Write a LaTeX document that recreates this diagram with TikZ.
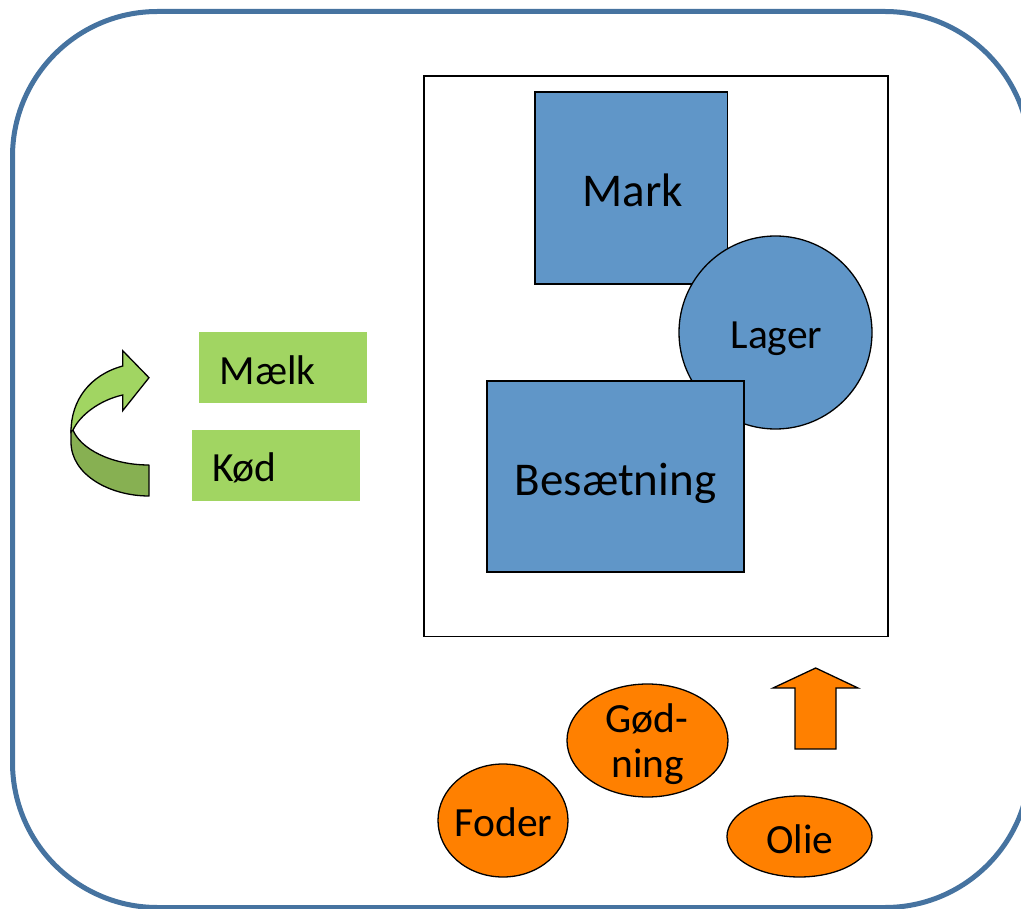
\documentclass[tikz,border=0pt]{standalone}
\usepackage{fontspec}
\setmainfont{Carlito}
\usetikzlibrary{shapes.geometric}
\definecolor{frameblue}{RGB}{70,115,160}
\definecolor{boxblue}{RGB}{96,150,200}
\definecolor{leafgreen}{RGB}{161,213,98}
\definecolor{darkgreen}{RGB}{135,176,82}
\definecolor{flame}{RGB}{255,128,0}

\begin{document}
\begin{tikzpicture}[x=1pt,y=-1pt,
  outline/.style={draw=black, line width=1.3pt},
  bluebox/.style={outline, fill=boxblue, rectangle, inner sep=0pt},
  greenbox/.style={fill=leafgreen, rectangle, inner sep=0pt},
  inflow/.style={outline, fill=flame, ellipse, inner sep=0pt},
  bigtxt/.style={font=\fontsize{47}{56}\selectfont, anchor=base},
  txt/.style={font=\fontsize{41.5}{50}\selectfont, anchor=base}]
\useasboundingbox (0,0) rectangle (1021,909);

% outer frame
\draw[frameblue, line width=5pt, rounded corners=145pt] (12.5,11.5) rectangle (1030,907.5);

% the farm
\node[outline, rectangle, inner sep=0pt, minimum width=464pt, minimum height=560.5pt] (farm) at (656,356.3) {};
\node[bluebox, minimum width=192.5pt, minimum height=192pt] (mark) at (631.3,188) {};
\node[outline, fill=boxblue, circle, inner sep=0pt, minimum size=193pt] (lager) at (775.5,332.5) {};
\node[bluebox, minimum width=257pt, minimum height=191pt] (besaetning) at (615.5,476.5) {};
\node[bigtxt] (marktxt) at (633,207) {Mark};
\node[txt] (lagertxt) at (776.5,349) {Lager};
\node[bigtxt] (besaetningtxt) at (615.5,496) {Besætning};

% products
\node[greenbox, minimum width=167.7pt, minimum height=71pt] (maelk) at (283,367.2) {};
\node[greenbox, minimum width=167.7pt, minimum height=70.4pt] (koed) at (276.2,465.5) {};
\node[txt, anchor=base west] (maelktxt) at (216,385) {Mælk};
\node[txt, anchor=base west] (koedtxt) at (208.5,482) {Kød};

% curved arrow (lower band first, upper band on top)
\draw[line width=1.3pt, line join=round, fill=darkgreen]
  (71,430) -- (71,442) .. controls (71,475) and (110,496) .. (149,496)
  -- (149,465) .. controls (110,465) and (80,448) .. (73,430) -- cycle;
\draw[line width=1.3pt, line join=miter, fill=leafgreen]
  (149,377.7) -- (122.7,350.7) -- (122.7,366)
  .. controls (90,375) and (71,400) .. (71,432)
  -- (73,430) .. controls (80,415) and (100,400) .. (122.7,395)
  -- (122.7,410.7) -- cycle;

% inputs
\node[inflow, minimum width=130pt, minimum height=113pt] (foder) at (503,820.5) {};
\node[inflow, minimum width=161pt, minimum height=113pt] (goedning) at (647.5,740.5) {};
\node[inflow, minimum width=145pt, minimum height=81pt] (olie) at (799.5,836.5) {};
\node[txt] (fodertxt) at (503.5,836.7) {Foder};
\node[txt] (goedtxt1) at (647,732) {Gød-};
\node[txt] (goedtxt2) at (648,777) {ning};
\node[txt] (olietxt) at (800,853) {Olie};

% up arrow
\draw[line width=1.3pt, fill=flame]
  (815.7,668) -- (858,688) -- (836,688) -- (836,749)
  -- (795,749) -- (795,688) -- (773,688) -- cycle;
\end{tikzpicture}
\end{document}
